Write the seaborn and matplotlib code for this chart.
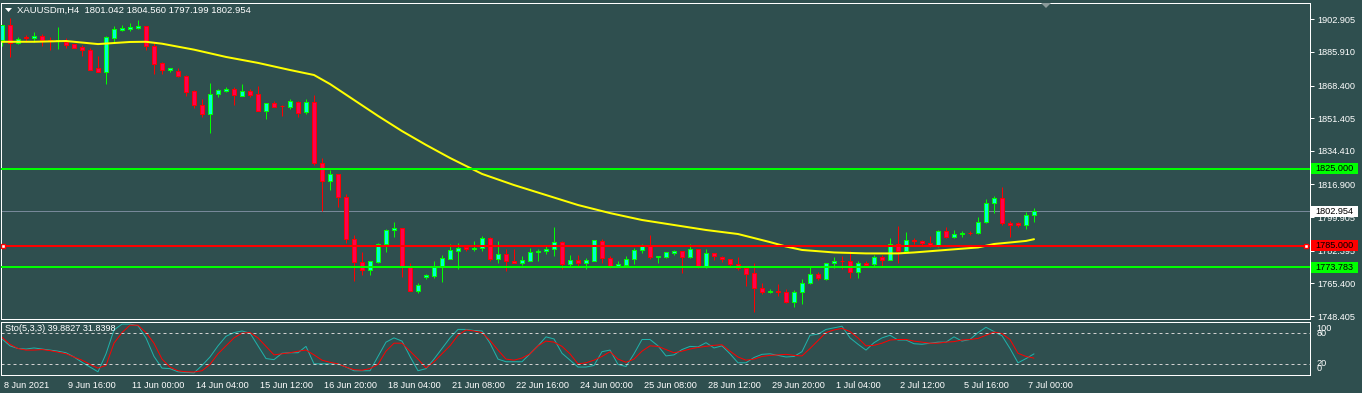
import numpy as np
import matplotlib
matplotlib.use("Agg")
import matplotlib.pyplot as plt
import matplotlib.transforms as mtransforms
from matplotlib.patches import Rectangle, Polygon
import seaborn as sns

BG = "#2F4F4F"
sns.set_style("dark", rc={"axes.facecolor": BG, "figure.facecolor": BG,
                          "axes.edgecolor": "white", "text.color": "white",
                          "xtick.color": "white", "ytick.color": "white",
                          "axes.grid": False})
plt.rcParams["font.family"] = ["Liberation Sans", "DejaVu Sans"]

# ---------------- data (XAUUSDm H4 candles) ----------------
symbol = "XAUUSDm"
timeframe = "H4"
opens = [1892.1, 1899.9, 1890.8, 1893.7, 1893.0, 1894.1, 1892.1, 1891.6, 1891.2, 1889.9,
         1888.5, 1886.9, 1877.4, 1875.6, 1893.3, 1897.3, 1897.9, 1898.4, 1899.3, 1888.8,
         1880.0, 1876.3, 1876.0, 1873.2, 1865.6, 1858.3, 1853.4, 1863.9, 1865.7, 1866.5,
         1863.1, 1865.4, 1864.0, 1855.3, 1859.2, 1857.9, 1857.4, 1860.0, 1854.6, 1859.7,
         1827.9, 1818.6, 1822.2, 1810.2, 1788.4, 1776.4, 1772.2, 1776.4, 1785.7, 1793.0,
         1794.1, 1774.4, 1761.6, 1768.6, 1769.4, 1774.1, 1778.2, 1782.4, 1784.2, 1783.1,
         1783.7, 1788.9, 1777.9, 1780.5, 1776.9, 1776.2, 1777.2, 1781.6, 1782.1, 1783.1,
         1786.9, 1775.3, 1777.6, 1775.9, 1777.2, 1787.6, 1778.5, 1774.1, 1775.1, 1777.9,
         1782.6, 1785.2, 1779.0, 1779.0, 1781.1, 1782.1, 1779.0, 1783.1, 1774.6, 1781.1,
         1779.3, 1777.9, 1775.3, 1773.3, 1770.6, 1762.8, 1761.1, 1761.6, 1761.1, 1755.5,
         1760.8, 1765.4, 1770.1, 1767.7, 1775.9, 1777.2, 1776.9, 1771.3, 1775.9, 1775.3,
         1779.0, 1777.7, 1785.7, 1782.4, 1788.0, 1787.5, 1786.3, 1785.5, 1792.7, 1789.4,
         1791.0, 1791.8, 1791.5, 1797.2, 1807.1, 1809.7, 1796.7, 1796.7, 1795.6, 1801.042]
highs = [1900.0, 1903.8, 1893.7, 1894.7, 1896.4, 1895.3, 1893.7, 1898.9, 1893.0, 1890.0,
         1889.5, 1887.8, 1883.8, 1894.2, 1899.4, 1899.9, 1901.0, 1902.5, 1899.6, 1891.2,
         1880.8, 1877.7, 1877.4, 1873.9, 1866.1, 1861.4, 1869.6, 1866.5, 1867.7, 1867.5,
         1869.2, 1866.5, 1868.2, 1859.4, 1860.5, 1858.1, 1861.4, 1860.2, 1861.2, 1863.3,
         1830.7, 1824.4, 1822.4, 1811.9, 1790.4, 1781.9, 1777.1, 1786.6, 1793.7, 1797.5,
         1794.4, 1776.2, 1765.4, 1770.1, 1777.1, 1780.2, 1785.9, 1786.3, 1784.9, 1787.5,
         1790.1, 1789.3, 1787.5, 1783.1, 1783.1, 1779.7, 1784.0, 1783.3, 1785.2, 1794.6,
         1787.3, 1780.2, 1780.0, 1778.6, 1788.2, 1788.4, 1779.7, 1777.2, 1779.7, 1783.7,
         1785.7, 1790.4, 1779.9, 1781.9, 1782.8, 1782.3, 1785.9, 1783.3, 1783.3, 1781.3,
         1779.5, 1778.1, 1779.1, 1773.6, 1775.9, 1765.8, 1762.5, 1764.9, 1762.5, 1762.0,
         1767.7, 1774.1, 1771.2, 1776.2, 1779.0, 1779.7, 1782.4, 1777.1, 1777.1, 1780.2,
         1780.2, 1788.9, 1795.3, 1792.0, 1788.9, 1788.0, 1790.1, 1793.2, 1794.6, 1793.2,
         1792.5, 1792.8, 1800.1, 1809.3, 1810.9, 1815.4, 1797.7, 1797.5, 1802.7, 1804.560]
lows = [1889.2, 1883.3, 1890.0, 1891.2, 1891.2, 1889.0, 1887.1, 1887.6, 1888.1, 1887.8,
        1883.8, 1876.3, 1875.4, 1869.2, 1891.2, 1896.8, 1896.8, 1897.9, 1887.1, 1874.6,
        1874.3, 1875.3, 1872.9, 1863.0, 1856.6, 1852.2, 1843.9, 1862.6, 1865.1, 1858.4,
        1862.9, 1862.3, 1855.1, 1851.1, 1857.1, 1852.7, 1856.4, 1852.2, 1853.8, 1827.2,
        1803.2, 1814.0, 1805.0, 1786.3, 1766.8, 1769.6, 1769.6, 1775.9, 1781.9, 1789.7,
        1768.9, 1761.4, 1760.5, 1767.5, 1768.4, 1766.3, 1777.9, 1772.9, 1782.1, 1782.4,
        1782.4, 1776.9, 1776.2, 1771.8, 1775.9, 1775.1, 1776.9, 1777.2, 1780.9, 1779.7,
        1773.0, 1774.4, 1774.1, 1772.7, 1776.9, 1775.9, 1773.6, 1773.9, 1774.4, 1775.5,
        1781.1, 1778.2, 1776.2, 1778.6, 1780.3, 1770.6, 1778.5, 1773.3, 1773.3, 1777.7,
        1776.7, 1774.1, 1772.4, 1764.2, 1750.7, 1760.0, 1760.2, 1759.0, 1755.3, 1753.1,
        1754.7, 1765.2, 1767.2, 1767.2, 1773.3, 1772.7, 1768.4, 1768.4, 1774.4, 1774.6,
        1773.8, 1777.5, 1775.9, 1781.9, 1785.9, 1785.4, 1784.5, 1784.5, 1788.9, 1789.2,
        1789.7, 1790.6, 1791.0, 1797.0, 1802.2, 1795.8, 1789.7, 1794.9, 1793.9, 1797.199]
closes = [1899.9, 1890.8, 1892.9, 1893.0, 1894.2, 1892.0, 1891.8, 1892.0, 1889.4, 1888.1,
          1886.8, 1876.7, 1875.6, 1893.7, 1897.9, 1898.5, 1898.9, 1899.4, 1888.8, 1879.8,
          1876.3, 1877.5, 1873.2, 1865.2, 1858.1, 1853.4, 1864.0, 1865.9, 1866.6, 1863.3,
          1865.4, 1863.6, 1855.3, 1859.2, 1857.4, 1857.6, 1860.2, 1854.3, 1859.7, 1827.9,
          1818.6, 1822.2, 1810.2, 1788.4, 1776.4, 1772.2, 1776.9, 1785.9, 1793.0, 1794.1,
          1774.1, 1761.6, 1764.6, 1769.6, 1774.1, 1778.5, 1782.8, 1783.8, 1783.1, 1783.8,
          1788.9, 1777.9, 1780.7, 1776.9, 1776.2, 1777.6, 1781.6, 1782.3, 1783.3, 1786.9,
          1775.5, 1777.6, 1775.9, 1777.6, 1788.0, 1778.6, 1773.8, 1775.5, 1778.1, 1782.8,
          1785.2, 1779.0, 1779.5, 1781.6, 1782.3, 1779.0, 1783.3, 1774.6, 1781.1, 1779.5,
          1777.9, 1775.3, 1773.3, 1770.3, 1762.8, 1761.1, 1761.6, 1760.9, 1755.5, 1760.8,
          1765.4, 1770.1, 1768.0, 1775.9, 1777.1, 1776.9, 1771.3, 1775.9, 1775.0, 1779.0,
          1777.7, 1785.9, 1782.4, 1788.0, 1787.3, 1786.3, 1785.5, 1792.7, 1789.4, 1791.1,
          1791.8, 1791.5, 1797.2, 1807.1, 1809.7, 1796.7, 1796.0, 1795.6, 1801.0, 1802.954]

# moving average (yellow) read at selected candles
ma_idx = [0, 4, 8, 12, 16, 18, 20, 24, 28, 32, 36, 39, 41, 44, 47, 50, 53, 56, 60, 64,
          68, 72, 76, 80, 84, 88, 92, 96, 98, 100, 104, 108, 112, 114, 118, 122, 124, 126, 128, 129]
ma_val = [1891.2, 1891.2, 1891.6, 1890.0, 1891.1, 1891.2, 1890.2, 1887.1, 1883.3, 1880.2,
          1876.5, 1873.9, 1869.2, 1860.9, 1852.6, 1844.7, 1837.5, 1830.7, 1822.4, 1816.6,
          1811.4, 1806.2, 1802.0, 1798.4, 1795.8, 1793.2, 1791.1, 1786.9, 1784.6, 1782.8,
          1781.5, 1781.0, 1781.0, 1781.5, 1782.8, 1784.1, 1785.9, 1786.7, 1787.5, 1788.4]

# Stochastic (5,3,3): main and signal
sto_main = [68, 55, 50, 49, 51, 49, 47, 45, 42, 34, 24, 15, 6, 40, 85, 96, 96, 93, 70, 35,
            13, 12, 6, 5, 4, 18, 34, 55, 73, 80, 83, 79, 55, 31, 29, 41, 42, 42, 54, 21,
            21, 21, 21, 15, 8, 8, 8, 35, 62, 70, 64, 35, 8, 12, 30, 50, 70, 86, 86, 84,
            83, 60, 30, 25, 25, 25, 40, 55, 72, 68, 41, 28, 15, 15, 18, 44, 47, 20, 16, 40,
            67, 67, 55, 36, 38, 48, 54, 53, 61, 51, 55, 40, 23, 23, 33, 39, 40, 37, 34, 35,
            44, 75, 77, 86, 89, 92, 70, 58, 47, 61, 70, 75, 66, 66, 59, 58, 60, 62, 62, 72,
            64, 67, 80, 90, 82, 74, 50, 23, 31, 39.8827]
sto_signal = [71, 58, 50, 47, 47, 48, 46, 43, 40, 34, 28, 20, 13, 18, 60, 80, 94, 94, 80, 60,
              30, 15, 8, 6, 5.7, 8, 20, 40, 55, 70, 79, 80, 70, 54, 38, 40, 42, 45, 47, 38,
              28, 24, 21, 15, 10, 9, 12, 20, 45, 60, 60, 45, 30, 13.5, 25, 40, 55, 75, 85, 83,
              80, 65, 47, 30, 28, 32, 40, 55, 64, 62, 54, 40, 21, 23, 28, 35, 44, 30, 24, 30,
              45, 55, 54, 48, 42, 45, 49, 52, 54, 56, 57, 45, 34, 28, 30, 35, 37, 38, 39, 37,
              36, 50, 65, 80, 85, 88, 82, 70, 55, 56, 60, 66, 67, 67, 64, 62, 60, 60, 62, 63,
              66, 67, 69, 75, 81, 78, 67, 41, 35, 31.8398]

level_green_hi = 1825.000
level_red = 1785.000
level_green_lo = 1773.783
y_ticks = [1902.905, 1885.910, 1868.400, 1851.405, 1834.410, 1816.900, 1799.905, 1782.395, 1765.400, 1748.405]
x_tick_idx = [0, 8, 16, 24, 32, 40, 48, 56, 64, 72, 80, 88, 96, 104, 112, 120, 128]
x_tick_lbl = ["8 Jun 2021", "9 Jun 16:00", "11 Jun 00:00", "14 Jun 04:00", "15 Jun 12:00",
              "16 Jun 20:00", "18 Jun 04:00", "21 Jun 08:00", "22 Jun 16:00", "24 Jun 00:00",
              "25 Jun 08:00", "28 Jun 12:00", "29 Jun 20:00", "1 Jul 04:00", "2 Jul 12:00",
              "5 Jul 16:00", "7 Jul 00:00"]

# ---------------- figure ----------------
W, H = 1362, 393
fig = plt.figure(figsize=(W / 100, H / 100), dpi=100)


def px_axes(x0, y0, x1, y1):
    return fig.add_axes([x0 / W, 1 - y1 / H, (x1 - x0) / W, (y1 - y0) / H])


ax = px_axes(1, 3, 1310, 319)
ax2 = px_axes(1, 322, 1310, 375)
FS = 6.6
PX = 0.72  # one pixel in points

o = np.array(opens); h = np.array(highs); l = np.array(lows); c = np.array(closes)
idx = np.arange(len(o))
bull = c >= o
BULL_EDGE, BULL_FILL = "#00FF00", "#00FFD0"
BEAR_EDGE, BEAR_FILL = "#FF0000", "#FF0050"

ax.vlines(idx[bull], l[bull], h[bull], color=BULL_EDGE, lw=PX, zorder=3)
ax.vlines(idx[~bull], l[~bull], h[~bull], color=BEAR_EDGE, lw=PX, zorder=3)
ax.bar(idx[bull], (c - o)[bull], bottom=o[bull], width=0.58, color=BULL_FILL,
       edgecolor=BULL_EDGE, linewidth=PX, zorder=4)
ax.bar(idx[~bull], (o - c)[~bull], bottom=c[~bull], width=0.58, color=BEAR_FILL,
       edgecolor=BEAR_EDGE, linewidth=PX, zorder=4)

sns.lineplot(x=ma_idx, y=ma_val, ax=ax, color="#FFFF00", linewidth=2 * PX, zorder=5, legend=False)

ax.axhline(level_green_hi, color="#00FF00", lw=2 * PX, zorder=6)
ax.axhline(level_green_lo, color="#00FF00", lw=2 * PX, zorder=6)
ax.axhline(level_red, color="#FF0000", lw=2 * PX, zorder=6)
ax.axhline(c[-1], color="#778899", lw=PX, zorder=2)
ax.plot([0.125, 163.0], [level_red, level_red], ls="none", marker="s", ms=3.5,
        mfc="white", mec="#FF0000", mew=1.0, zorder=7, clip_on=False)

ax.set_xlim(-0.125, 163.5)
ax.set_ylim(1746.85, 1911.39)
ax.set_xticks([])
ax.set_xlabel(""); ax.set_ylabel("")
ax.yaxis.tick_right()
ax.set_yticks(y_ticks)
ax.set_yticklabels([f"{v:.3f}" for v in y_ticks])
ax.tick_params(axis="y", direction="out", length=3, width=PX, pad=2, labelsize=FS, colors="white")
for s in ax.spines.values():
    s.set_color("white"); s.set_linewidth(PX)

# price boxes on the right
trans = mtransforms.blended_transform_factory(ax.transAxes, ax.transData)
bw = 47 / 1309
bh = 11 * (1911.39 - 1746.85) / 316
for val, fc in [(level_green_hi, "#00FF00"), (c[-1], "white"), (level_red, "#FF0000"), (level_green_lo, "#00FF00")]:
    ax.add_patch(Rectangle((1.0008, val - bh / 2), bw, bh, transform=trans, facecolor=fc,
                           edgecolor="none", clip_on=False, zorder=8))
    ax.text(1.0008 + bw / 2, val, f"{val:.3f}", transform=trans, ha="center", va="center",
            fontsize=FS, color="black", zorder=9, clip_on=False)

# ---------------- stochastic panel ----------------
sns.lineplot(x=idx, y=sto_main, ax=ax2, color="#20B2AA", linewidth=PX, legend=False)
sns.lineplot(x=idx, y=sto_signal, ax=ax2, color="#FF0000", linewidth=PX, legend=False)
for lv in (80, 20):
    ax2.axhline(lv, color="#D0D0D0", lw=PX, ls=(0, (3, 3)))
ax2.set_xlim(-0.125, 163.5)
ax2.set_ylim(0, 100)
ax2.set_yticks([])
ax2.set_ylabel(""); ax2.set_xlabel("")
ax2.set_xticks(x_tick_idx)
ax2.set_xticklabels(x_tick_lbl)
ax2.tick_params(axis="x", direction="out", length=4, width=PX, pad=0.5, labelsize=FS, colors="white")
off = mtransforms.ScaledTranslation(2 / 100, 0, fig.dpi_scale_trans)
for lbl in ax2.get_xticklabels():
    lbl.set_horizontalalignment("left")
    lbl.set_transform(lbl.get_transform() + off)
for s in ax2.spines.values():
    s.set_color("white"); s.set_linewidth(PX)
trans2 = mtransforms.blended_transform_factory(ax2.transAxes, ax2.transData)
for txt, yv in [("100", 88), ("80", 78.5), ("20", 22), ("0", 12.5)]:
    ax2.text(1.005, yv, txt, transform=trans2, ha="left", va="center", fontsize=FS,
             color="white", clip_on=False)
ax2.text(4 / 1309, 0.87, f"Sto(5,3,3) {sto_main[-1]:.4f} {sto_signal[-1]:.4f}",
         transform=ax2.transAxes, ha="left", va="center", fontsize=FS, color="white")

# ---------------- header ----------------
fig.text(17 / W, 1 - 10 / H,
         f"{symbol},{timeframe}  {opens[-1]:.3f} {highs[-1]:.3f} {lows[-1]:.3f} {closes[-1]:.3f}",
         ha="left", va="center", fontsize=FS + 0.2, color="white")
fig.patches.append(Polygon([(5 / W, 1 - 8 / H), (12 / W, 1 - 8 / H), (8.5 / W, 1 - 12 / H)],
                           closed=True, transform=fig.transFigure, figure=fig,
                           facecolor="white", edgecolor="none"))
fig.patches.append(Polygon([(1041 / W, 1 - 3 / H), (1051 / W, 1 - 3 / H), (1046 / W, 1 - 8 / H)],
                           closed=True, transform=fig.transFigure, figure=fig,
                           facecolor="#8A9A9A", edgecolor="none"))

fig.savefig("out.png", dpi=100, facecolor=BG)
